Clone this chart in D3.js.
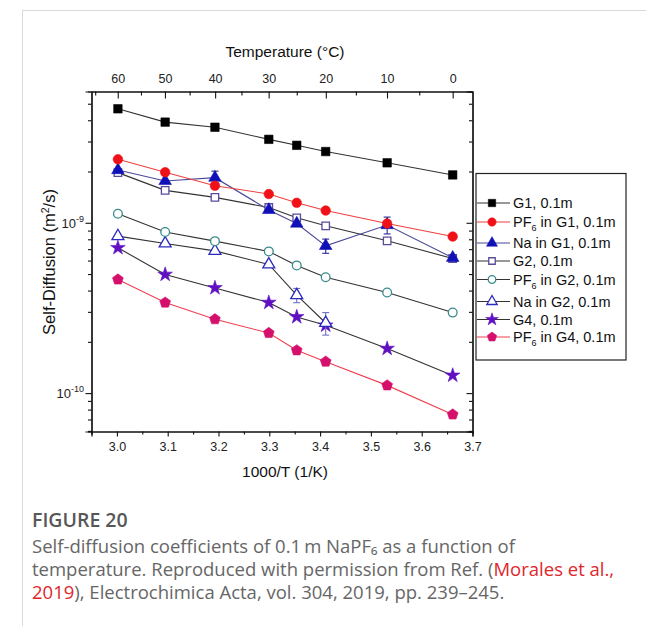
<!DOCTYPE html>
<html>
<head>
<meta charset="utf-8">
<script src="https://cdn.jsdelivr.net/npm/d3@7"></script>
<style>
  html, body { margin: 0; padding: 0; background: #fff; }
  svg { display: block; }
</style>
</head>
<body>
<svg id="chart" width="646" height="626"></svg>
<script>
// ---------------- DATA ----------------
const invT = [3.002, 3.095, 3.193, 3.299, 3.354, 3.411, 3.532, 3.661]; // 1000/T (1/K)
const xTicks = [3.0, 3.1, 3.2, 3.3, 3.4, 3.5, 3.6, 3.7];
const tempTicks = [60, 50, 40, 30, 20, 10, 0];
const tempMinor = [65, 55, 45, 35, 25, 15, 5];
const yMajor = [1e-10, 1e-9];

const g1      = [4.67e-9, 3.90e-9, 3.64e-9, 3.09e-9, 2.85e-9, 2.62e-9, 2.25e-9, 1.91e-9];
const pf6G1   = [2.36e-9, 1.98e-9, 1.65e-9, 1.475e-9, 1.31e-9, 1.18e-9, 0.99e-9, 0.83e-9];
const naG1    = [2.04e-9, 1.76e-9, 1.84e-9, 1.19e-9, 0.99e-9, 0.732e-9, 0.97e-9, 0.623e-9];
const naG1Err = [0, 0, 0.17e-9, 0, 0, 0.07e-9, 0.11e-9, 0];
const g2      = [1.97e-9, 1.55e-9, 1.41e-9, 1.23e-9, 1.07e-9, 0.96e-9, 0.784e-9, 0.617e-9];
const pf6G2   = [1.13e-9, 0.882e-9, 0.78e-9, 0.679e-9, 0.562e-9, 0.479e-9, 0.39e-9, 0.297e-9];
const naG2    = [0.835e-9, 0.756e-9, 0.684e-9, 0.569e-9, 0.3756e-9, 0.258e-9];
const naG2Err = [0, 0, 0, 0, 0.036e-9, 0.039e-9];
const g4      = [0.713e-9, 0.497e-9, 0.4146e-9, 0.340e-9, 0.280e-9, 0.250e-9, 0.1825e-9, 0.127e-9];
const pf6G4   = [0.4645e-9, 0.340e-9, 0.2714e-9, 0.2254e-9, 0.1783e-9, 0.153e-9, 0.111e-9, 0.0749e-9];

const seriesNames = ["G1, 0.1m", "PF6 in G1, 0.1m", "Na in G1, 0.1m", "G2, 0.1m",
                     "PF6 in G2, 0.1m", "Na in G2, 0.1m", "G4, 0.1m", "PF6 in G4, 0.1m"];
const seriesValues = [g1, pf6G1, naG1, g2, pf6G2, naG2, g4, pf6G4];
const seriesErrors = [null, null, naG1Err, null, null, naG2Err, null, null];

// ---------------- STYLES ----------------
const styles = [
  {shape: "square",   fill: "#000",    stroke: "#000",    line: "#333",    size: 72},
  {shape: "circle",   fill: "#f01018", stroke: "#f01018", line: "#f04040", size: 72},
  {shape: "triangle", fill: "#1010b8", stroke: "#1010b8", line: "#4a4a98", size: 68, err: "#2a2a90"},
  {shape: "square",   fill: "#fff",    stroke: "#5a4a9c", line: "#333",    size: 56},
  {shape: "circle",   fill: "#fff",    stroke: "#3a8a8a", line: "#333",    size: 60},
  {shape: "triangle", fill: "#fff",    stroke: "#2a2ac0", line: "#333",    size: 62, err: "#7070c8"},
  {shape: "star",     fill: "#6010c0", stroke: "#6010c0", line: "#333",    size: 66},
  {shape: "pentagon", fill: "#d4106c", stroke: "#d4106c", line: "#f04050", size: 76}
];

const W = 646, H = 626;
const margin = {left: 91.5, right: 472.5, top: 91.5, bottom: 431.5};
const svg = d3.select("#chart");
const FONT = "'Liberation Sans', Arial, sans-serif";

// frame lines of the page
svg.append("line").attr("x1", 22).attr("x2", W).attr("y1", 10.5).attr("y2", 10.5)
   .attr("stroke", "#d9d9d9").attr("stroke-width", 1);
svg.append("line").attr("x1", 22.5).attr("x2", 22.5).attr("y1", 10).attr("y2", H)
   .attr("stroke", "#d9d9d9").attr("stroke-width", 1);

const x = d3.scaleLinear().domain([2.95, 3.70]).range([margin.left, margin.right]);
const y = d3.scaleLog().domain([5.95e-11, 5.9e-9]).range([margin.bottom, margin.top]);

const g = svg.append("g");

// ---------- axes ----------
const axisColor = "#111";
const xMinor = d3.range(2.95, 3.701, 0.1).map(v => +v.toFixed(2));
const axBottom = g.append("g").attr("transform", `translate(0,${margin.bottom})`);
axBottom.call(d3.axisBottom(x).tickValues(xTicks).tickSize(5).tickFormat(d3.format(".1f")));
axBottom.selectAll("text").attr("font-size", 12.5).attr("font-family", FONT).attr("fill", "#222").attr("dy", "0.95em");
axBottom.append("g").call(d3.axisBottom(x).tickValues(xMinor).tickSize(3).tickFormat(""));

const tempPos = t => 1000 / (t + 273.15);
const axTop = g.append("g").attr("transform", `translate(0,${margin.top})`);
axTop.call(d3.axisTop(x).tickValues(tempTicks.map(tempPos)).tickSizeInner(-7).tickSizeOuter(0)
  .tickFormat((d, i) => tempTicks[i]));
axTop.selectAll("text").attr("font-size", 12.5).attr("font-family", FONT).attr("fill", "#222")
  .attr("y", -9).attr("dy", "0");
axTop.append("g").call(d3.axisTop(x).tickValues(tempMinor.map(tempPos)).tickSizeInner(-4).tickSizeOuter(0).tickFormat(""));

const yMinor = [];
[1e-11, 1e-10, 1e-9].forEach(dec => { for (let k = 2; k <= 9; k++) { const v = k * dec; if (v >= 5.95e-11 && v <= 5.9e-9) yMinor.push(v); } });

const axLeft = g.append("g").attr("transform", `translate(${margin.left},0)`);
axLeft.call(d3.axisLeft(y).tickValues(yMajor).tickSize(6).tickFormat(""));
axLeft.append("g").call(d3.axisLeft(y).tickValues(yMinor).tickSize(3.5).tickFormat(""));
const axRight = g.append("g").attr("transform", `translate(${margin.right},0)`);
axRight.call(d3.axisRight(y).tickValues(yMajor).tickSize(-6).tickFormat(""));
axRight.append("g").call(d3.axisRight(y).tickValues(yMinor).tickSize(-3.5).tickFormat(""));

g.selectAll(".domain").attr("stroke", axisColor).attr("stroke-width", 1.2);
g.selectAll(".tick line").attr("stroke", axisColor).attr("stroke-width", 1.1);

yMajor.forEach(v => {
  const t = g.append("text").attr("x", 84).attr("y", y(v) + 5).attr("text-anchor", "end")
    .attr("font-family", FONT).attr("font-size", 13).attr("fill", "#222");
  t.append("tspan").text("10");
  t.append("tspan").attr("dy", -6).attr("font-size", 9).text(String(Math.round(Math.log10(v))));
});

g.append("text").attr("x", 285).attr("y", 57).attr("text-anchor", "middle")
  .attr("font-family", FONT).attr("font-size", 15.5).attr("fill", "#111").text("Temperature (°C)");
g.append("text").attr("x", 285).attr("y", 477).attr("text-anchor", "middle")
  .attr("font-family", FONT).attr("font-size", 15.5).attr("fill", "#111").text("1000/T (1/K)");
const yl = g.append("text").attr("transform", "translate(55,262) rotate(-90)").attr("text-anchor", "middle")
  .attr("font-family", FONT).attr("font-size", 16.5).attr("fill", "#111");
yl.append("tspan").text("Self-Diffusion (m");
yl.append("tspan").attr("dy", -6).attr("font-size", 10.5).text("2");
yl.append("tspan").attr("dy", 6).text("/s)");

// ---------- markers ----------
function pentagonPath(size) {
  const r = Math.sqrt(size / 2.378);
  const pts = d3.range(5).map(i => {
    const a = -Math.PI / 2 + i * 2 * Math.PI / 5;
    return [r * Math.cos(a), r * Math.sin(a)];
  });
  return "M" + pts.map(p => p.join(",")).join("L") + "Z";
}
function markerPath(shape, size) {
  if (shape === "pentagon") return pentagonPath(size);
  const types = {square: d3.symbolSquare, circle: d3.symbolCircle, triangle: d3.symbolTriangle, star: d3.symbolStar};
  return d3.symbol(types[shape], size)();
}

const lineGen = d3.line().x(d => x(d[0])).y(d => y(d[1]));

const order = [7, 6, 5, 4, 3, 2, 1, 0];
order.forEach(i => {
  const st = styles[i];
  const pts = seriesValues[i].map((v, j) => [invT[j], v]);
  g.append("path").datum(pts).attr("d", lineGen).attr("fill", "none")
    .attr("stroke", st.line).attr("stroke-width", 1.1);
});
order.forEach(i => {
  const st = styles[i];
  const pts = seriesValues[i].map((v, j) => [invT[j], v]);
  const errs = seriesErrors[i];
  if (errs) {
    pts.forEach((p, j) => {
      const e = errs[j];
      if (!e) return;
      const cx = x(p[0]), y1 = y(p[1] + e), y2 = y(p[1] - e);
      const eg = g.append("g").attr("stroke", st.err).attr("stroke-width", 1.1);
      eg.append("line").attr("x1", cx).attr("x2", cx).attr("y1", y1).attr("y2", y2);
      eg.append("line").attr("x1", cx - 3.5).attr("x2", cx + 3.5).attr("y1", y1).attr("y2", y1);
      eg.append("line").attr("x1", cx - 3.5).attr("x2", cx + 3.5).attr("y1", y2).attr("y2", y2);
    });
  }
  g.append("g").selectAll("path").data(pts).join("path")
    .attr("d", markerPath(st.shape, st.size))
    .attr("transform", d => `translate(${x(d[0])},${y(d[1])})`)
    .attr("fill", st.fill).attr("stroke", st.stroke).attr("stroke-width", st.fill === "#fff" ? 1.3 : 0.6);
});

// ---------- legend ----------
const lg = svg.append("g");
lg.append("rect").attr("x", 476).attr("y", 173.5).attr("width", 150).attr("height", 186.5)
  .attr("fill", "#fff").attr("stroke", "#222").attr("stroke-width", 1.2);
const legendY = [203, 222, 243, 261, 279.5, 301.5, 319.5, 337];
seriesNames.forEach((name, i) => {
  const st = styles[i];
  const yy = legendY[i];
  lg.append("line").attr("x1", 477).attr("x2", 510).attr("y1", yy).attr("y2", yy)
    .attr("stroke", st.line).attr("stroke-width", 1.1);
  lg.append("path").attr("d", markerPath(st.shape, st.size * 0.75))
    .attr("transform", `translate(492,${yy})`)
    .attr("fill", st.fill).attr("stroke", st.stroke).attr("stroke-width", st.fill === "#fff" ? 1.3 : 0.6);
  const t = lg.append("text").attr("x", 513).attr("y", yy + 5).attr("font-family", FONT)
    .attr("font-size", 14.5).attr("fill", "#111");
  if (name.startsWith("PF6")) {
    t.append("tspan").text("PF");
    t.append("tspan").attr("dy", 4).attr("font-size", 9).text("6");
    t.append("tspan").attr("dy", -4).text(name.slice(3));
  } else {
    t.text(name);
  }
});

// ---------- caption ----------
const CAP = "'Open Sans', Lato, sans-serif";
svg.append("text").attr("x", 32).attr("y", 527).attr("font-family", CAP).attr("font-weight", 600)
  .attr("font-size", 19.5).attr("fill", "#575757").text("FIGURE 20");
const capLines = svg.append("g").attr("font-family", CAP).attr("font-size", 18.5).attr("fill", "#666");
capLines.append("text").attr("x", 32).attr("y", 553)
  .text("Self-diffusion coefficients of 0.1\u2009m NaPF\u2086 as a function of");
const l2 = capLines.append("text").attr("x", 32).attr("y", 576);
l2.append("tspan").text("temperature. Reproduced with permission from Ref. (");
l2.append("tspan").attr("fill", "#e0262b").text("Morales et al.,");
const l3 = capLines.append("text").attr("x", 32).attr("y", 599);
l3.append("tspan").attr("fill", "#e0262b").text("2019");
l3.append("tspan").text("), Electrochimica Acta, vol. 304, 2019, pp. 239\u2013245.");
</script>
</body>
</html>
